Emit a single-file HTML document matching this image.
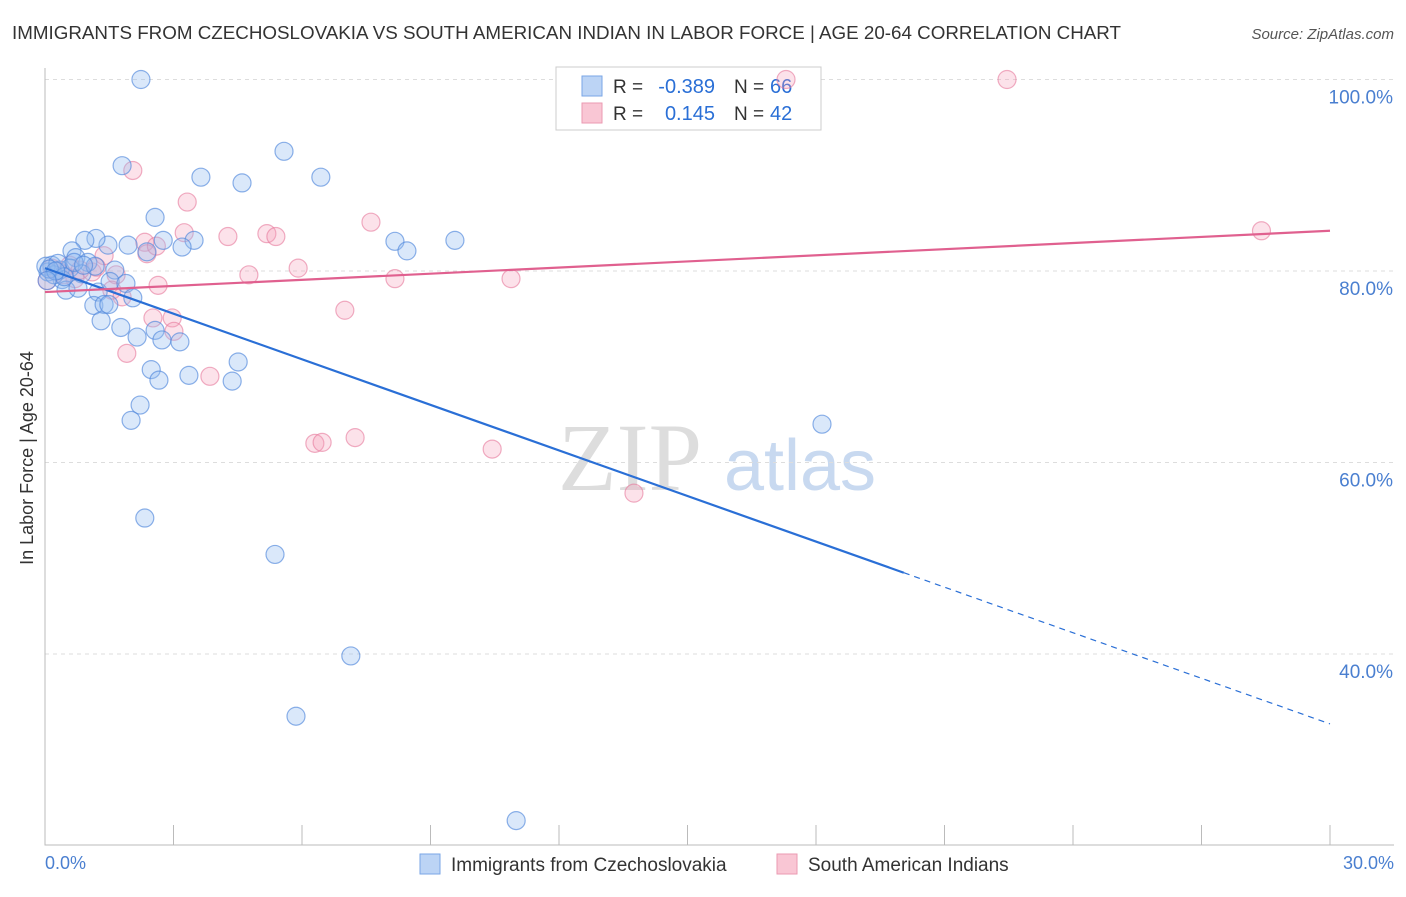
<!DOCTYPE html>
<html><head><meta charset="utf-8"><style>
body{margin:0;background:#fff;font-family:"Liberation Sans",sans-serif;}
</style></head><body>
<svg id="c" width="1406" height="892" xmlns="http://www.w3.org/2000/svg">
<text x="12" y="39" font-size="18.8" fill="#333">IMMIGRANTS FROM CZECHOSLOVAKIA VS SOUTH AMERICAN INDIAN IN LABOR FORCE | AGE 20-64 CORRELATION CHART</text>
<text x="1394" y="39" font-size="15" fill="#555" font-style="italic" text-anchor="end">Source: ZipAtlas.com</text>
<text x="630" y="490" font-size="96" fill="#ddd" font-family="Liberation Serif" text-anchor="middle">ZIP</text>
<text x="800" y="490" font-size="72" fill="#c8d9f0" text-anchor="middle">atlas</text>
<g id="grid"></g>
<g>
<rect x="556" y="67" width="265" height="63" fill="#fff" stroke="#ccc"/>
<rect x="582" y="76" width="20" height="20" fill="#bcd4f5" stroke="#7aa6e6"/>
<rect x="582" y="103" width="20" height="20" fill="#f9c6d4" stroke="#eb9ab2"/>
<text x="613" y="93" font-size="19" fill="#333">R =</text>
<text x="715" y="93" font-size="20" fill="#2a6fd6" text-anchor="end">-0.389</text>
<text x="734" y="93" font-size="19" fill="#333">N =</text>
<text x="770" y="93" font-size="20" fill="#2a6fd6">66</text>
<text x="613" y="120" font-size="19" fill="#333">R =</text>
<text x="715" y="120" font-size="20" fill="#2a6fd6" text-anchor="end">0.145</text>
<text x="734" y="120" font-size="19" fill="#333">N =</text>
<text x="770" y="120" font-size="20" fill="#2a6fd6">42</text>
</g>
<g id="pts"></g><g id="lines"></g>
<text x="33" y="458" font-size="18" fill="#333" text-anchor="middle" transform="rotate(-90 33 458)">In Labor Force | Age 20-64</text>
<text x="45" y="869" font-size="18" fill="#4a7fd0">0.0%</text>
<text x="1394" y="869" font-size="18" fill="#4a7fd0" text-anchor="end">30.0%</text>
<g>
<rect x="420" y="854" width="20" height="20" fill="#bcd4f5" stroke="#7aa6e6"/>
<text x="451" y="871" font-size="19" fill="#333">Immigrants from Czechoslovakia</text>
<rect x="777" y="854" width="20" height="20" fill="#f9c6d4" stroke="#eb9ab2"/>
<text x="808" y="871" font-size="19" fill="#333">South American Indians</text>
</g>
</svg>
<script>
const blueX=[2.24,1.80,5.58,6.44,3.64,4.60,2.57,8.17,9.57,8.45,3.48,3.20,2.76,2.38,1.94,1.47,1.19,0.93,0.63,0.72,1.00,0.16,0.35,0.07,0.58,0.86,1.17,1.63,0.40,0.49,0.77,1.24,1.52,1.89,2.05,1.14,1.38,1.49,1.31,1.77,2.15,2.57,2.73,3.15,2.48,2.66,3.36,4.37,4.51,2.22,2.01,18.14,2.33,5.37,7.14,5.86,11.0,0.02,0.21,0.30,0.10,0.45,0.68,0.25,0.05,0.90];
const blueY=[100,91.0,92.5,89.8,89.8,89.2,85.6,83.1,83.2,82.1,83.2,82.5,83.2,82.0,82.7,82.7,83.4,83.2,82.1,81.4,80.9,80.6,80.1,79.9,80.3,79.7,80.5,80.1,79.1,78.0,78.2,77.8,78.9,78.7,77.2,76.4,76.5,76.5,74.8,74.1,73.1,73.8,72.8,72.6,69.7,68.6,69.1,68.5,70.5,66.0,64.4,64.0,54.2,50.4,39.8,33.5,22.6,80.5,79.6,80.8,80.2,79.4,80.9,80.0,79.0,80.6];
const pinkX=[17.3,22.46,2.05,3.32,7.61,5.18,5.39,4.27,3.25,2.33,2.38,28.4,1.38,5.91,4.76,8.17,10.88,2.64,1.66,1.10,1.56,1.80,7.0,2.52,2.97,3.01,1.91,3.85,6.30,6.47,7.24,10.44,13.75,0.16,0.58,0.44,0.82,0.05,0.30,1.20,0.70,2.60];
const pinkY=[100,100,90.5,87.2,85.1,83.9,83.6,83.6,84.0,83.0,81.8,84.2,81.6,80.3,79.6,79.2,79.2,78.5,79.6,79.9,78.0,77.3,75.9,75.1,75.1,73.7,71.4,69.0,62.0,62.1,62.6,61.4,56.8,80.3,80.6,79.6,80.1,79.0,80.0,80.4,79.2,82.6];
const yTicks=[100,80,60,40];
const blueTrend=[80.3,32.7]; const pinkTrend=[77.8,84.2]; const blueSolidEnd=20.05;
const sx=v=>45+v/30*1285, sy=v=>79.5+(100-v)/20*191.5;
const NS="http://www.w3.org/2000/svg";
function mk(t,a,p){const e=document.createElementNS(NS,t);for(const k in a)e.setAttribute(k,a[k]);p.appendChild(e);return e;}
const g=document.getElementById('grid');
yTicks.forEach(v=>{const l=mk('line',{x1:45,x2:1394,y1:sy(v),y2:sy(v),stroke:'#ddd','stroke-dasharray':'4 4'},g);


const t=mk('text',{x:1393,y:sy(v)+24,'font-size':19,fill:'#4a7fd0','text-anchor':'end'},g);t.textContent=v.toFixed(1)+'%';

});
const ax=mk('path',{d:'M45 68V845H1394',stroke:'#bbb',fill:'none'},g);


for(let i=0;i<=10;i++){const tk=mk('line',{x1:sx(i*3),x2:sx(i*3),y1:825,y2:845,stroke:'#bbb'},g);

}
const pg=document.getElementById('pts');
pinkX.forEach((x,i)=>{const c=mk('circle',{cx:sx(x),cy:sy(pinkY[i]),r:9,fill:'rgba(245,160,185,0.3)',stroke:'rgba(230,120,155,0.6)','stroke-width':1.2},pg);

});
blueX.forEach((x,i)=>{const c=mk('circle',{cx:sx(x),cy:sy(blueY[i]),r:9,fill:'rgba(150,190,240,0.35)',stroke:'rgba(80,135,220,0.65)','stroke-width':1.2},pg);

});
const lg=document.getElementById('lines');
const bAt=x=>blueTrend[0]+(blueTrend[1]-blueTrend[0])*x/30;
const l1=mk('line',{x1:sx(0),y1:sy(bAt(0)),x2:sx(blueSolidEnd),y2:sy(bAt(blueSolidEnd)),stroke:'#2a6fd6','stroke-width':2.2},lg);


const l2=mk('line',{x1:sx(blueSolidEnd),y1:sy(bAt(blueSolidEnd)),x2:sx(30),y2:sy(bAt(30)),stroke:'#2a6fd6','stroke-width':1.2,'stroke-dasharray':'6 5'},lg);


const l3=mk('line',{x1:sx(0),y1:sy(pinkTrend[0]),x2:sx(30),y2:sy(pinkTrend[1]),stroke:'#e0608f','stroke-width':2.2},lg);


</script>
</body></html>
